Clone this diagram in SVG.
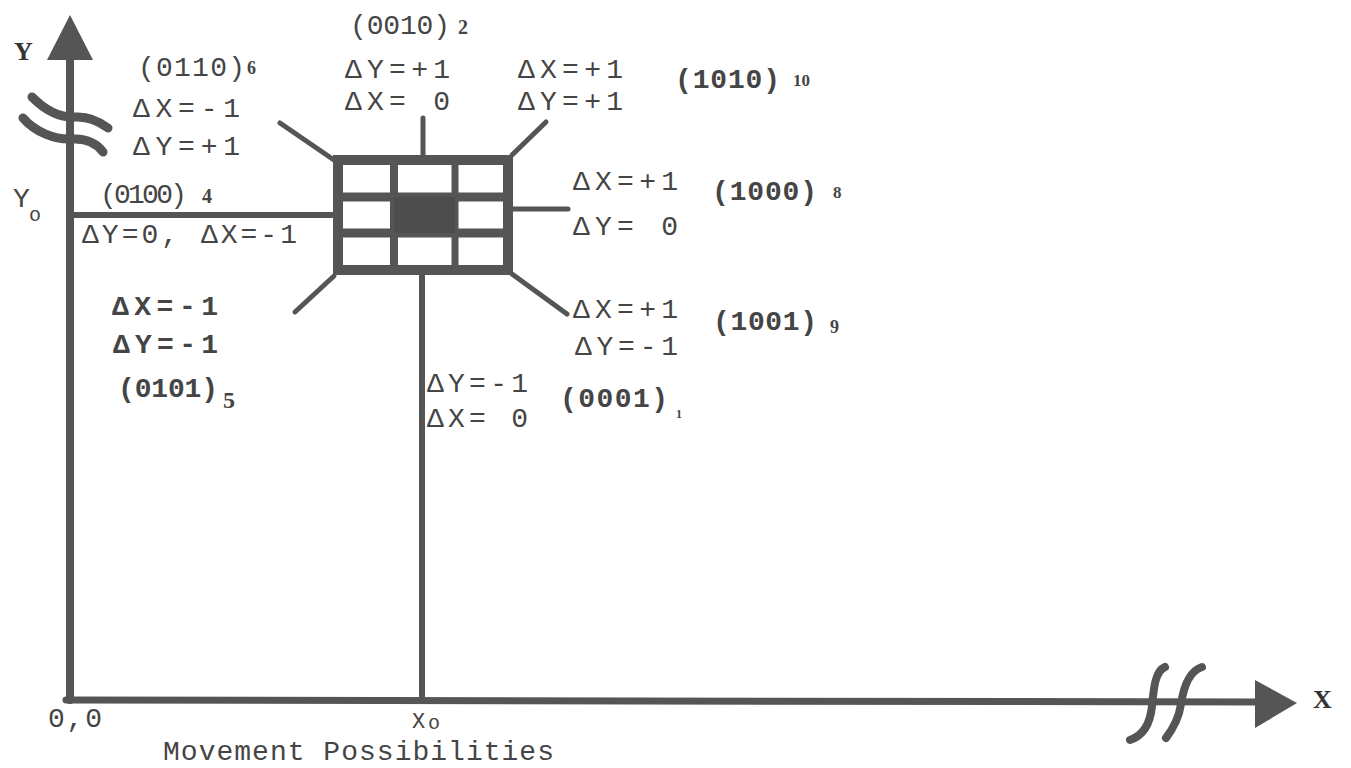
<svg xmlns="http://www.w3.org/2000/svg" width="1351" height="768" viewBox="0 0 1351 768">
<style>
.ln{stroke:#555;fill:none;stroke-linecap:round;stroke-linejoin:round}
.t{font-family:"Liberation Mono","DejaVu Sans Mono",monospace;font-size:28px;fill:#454545}
.b{font-weight:bold}
.s{font-family:"Liberation Serif",serif;font-size:20px;fill:#454545;font-weight:bold}
.ax{font-family:"Liberation Serif",serif;font-size:26px;fill:#333;font-weight:bold}
</style>
<rect width="1351" height="768" fill="#fff"/>
<g id="axes">
  <line class="ln" x1="70" y1="58" x2="70" y2="700" stroke-width="8"/>
  <polygon points="70,15 47,60 93,60" fill="#555"/>
  <path class="ln" d="M32,97 C45,110 60,118 75,117 C90,116 100,122 108,128" stroke-width="9"/>
  <path class="ln" d="M23,118 C35,132 55,140 72,139 C88,138 98,145 103,152" stroke-width="9"/>
  <line class="ln" x1="66" y1="700" x2="1258" y2="702" stroke-width="7" stroke-linecap="butt"/>
  <path class="ln" d="M1130,740 C1142,736 1150,726 1152,706 C1154,684 1156,671 1165,667" stroke-width="8"/>
  <path class="ln" d="M1166,738 C1172,730 1179,718 1181,704 C1184,684 1190,671 1202,667" stroke-width="8"/>
  <polygon points="1297,703 1255,680 1255,728" fill="#555"/>
  <text class="ax" x="14" y="60">Y</text>
  <text class="ax" x="1313" y="708">X</text>
  <text class="t" x="13" y="207">Y</text><text class="t" x="29" y="221" style="font-size:20px">o</text>
  <text class="t" x="48" y="727" textLength="54">0,0</text>
  <text class="t" x="412" y="728" style="font-size:22px">X</text><text class="t" x="428" y="729" style="font-size:20px">o</text>
  <text class="t" x="163" y="760" textLength="391">Movement Possibilities</text>
</g>
<g id="connectors">
  <line class="ln" x1="423" y1="118" x2="423" y2="156" stroke-width="5"/>
  <line class="ln" x1="280" y1="123" x2="334" y2="160" stroke-width="5"/>
  <line class="ln" x1="546" y1="122" x2="512" y2="155" stroke-width="5"/>
  <line class="ln" x1="70" y1="215" x2="334" y2="215" stroke-width="6" stroke-linecap="butt"/>
  <line class="ln" x1="512" y1="209" x2="568" y2="209" stroke-width="5"/>
  <line class="ln" x1="334" y1="276" x2="295" y2="312" stroke-width="5"/>
  <line class="ln" x1="512" y1="274" x2="567" y2="314" stroke-width="5"/>
  <line class="ln" x1="422" y1="274" x2="422" y2="700" stroke-width="6" stroke-linecap="butt"/>
</g>
<g id="grid">
  <rect x="338" y="160" width="170" height="110" fill="none" stroke="#555" stroke-width="10"/>
  <line x1="394" y1="160" x2="394" y2="270" stroke="#555" stroke-width="8"/>
  <line x1="455" y1="160" x2="455" y2="270" stroke="#555" stroke-width="7"/>
  <line x1="338" y1="197" x2="508" y2="197" stroke="#555" stroke-width="9"/>
  <line x1="338" y1="233" x2="508" y2="233" stroke="#555" stroke-width="9"/>
  <rect x="394" y="197" width="61" height="36" fill="#4d4d4d"/>
</g>
<g id="n2">
  <text class="t" x="350" y="34" textLength="100">(0010)</text><text class="s" x="458" y="34">2</text>
  <text class="t" x="345" y="78" textLength="105">ΔY=+1</text>
  <text class="t" x="345" y="110" textLength="105">ΔX= 0</text>
</g>
<g id="n10">
  <text class="t" x="518" y="78" textLength="105">ΔX=+1</text>
  <text class="t" x="518" y="110" textLength="105">ΔY=+1</text>
  <text class="t b" x="675" y="88" textLength="105">(1010)</text><text class="s" x="793" y="86" style="font-size:17px">10</text>
</g>
<g id="n6">
  <text class="t" x="138" y="76" textLength="107">(0110)</text><text class="s" x="247" y="74" style="font-size:18px">6</text>
  <text class="t" x="133" y="117" textLength="107">ΔX=-1</text>
  <text class="t" x="133" y="155" textLength="107">ΔY=+1</text>
</g>
<g id="n4">
  <text class="t" x="100" y="203" textLength="87">(0100)</text><text class="s" x="202" y="203">4</text>
  <text class="t" x="82" y="243" textLength="215">ΔY=0, ΔX=-1</text>
</g>
<g id="n8">
  <text class="t" x="573" y="190" textLength="105">ΔX=+1</text>
  <text class="t" x="573" y="235" textLength="105">ΔY= 0</text>
  <text class="t b" x="712" y="200" textLength="105">(1000)</text><text class="s" x="833" y="198" style="font-size:17px">8</text>
</g>
<g id="n9">
  <text class="t" x="573" y="318" textLength="105">ΔX=+1</text>
  <text class="t" x="575" y="355" textLength="103">ΔY=-1</text>
  <text class="t b" x="713" y="330" textLength="104">(1001)</text><text class="s" x="830" y="333" style="font-size:18px">9</text>
</g>
<g id="n5">
  <text class="t b" x="112" y="315" textLength="106">ΔX=-1</text>
  <text class="t b" x="113" y="353" textLength="105">ΔY=-1</text>
  <text class="t b" x="118" y="397" textLength="100">(0101)</text><text class="s" x="223" y="408" style="font-size:24px">5</text>
</g>
<g id="n1">
  <text class="t" x="427" y="392" textLength="101">ΔY=-1</text>
  <text class="t" x="427" y="427" textLength="101">ΔX= 0</text>
  <text class="t b" x="560" y="407" textLength="108">(0001)</text><text class="s" x="676" y="418" style="font-size:12px">1</text>
</g>
</svg>
